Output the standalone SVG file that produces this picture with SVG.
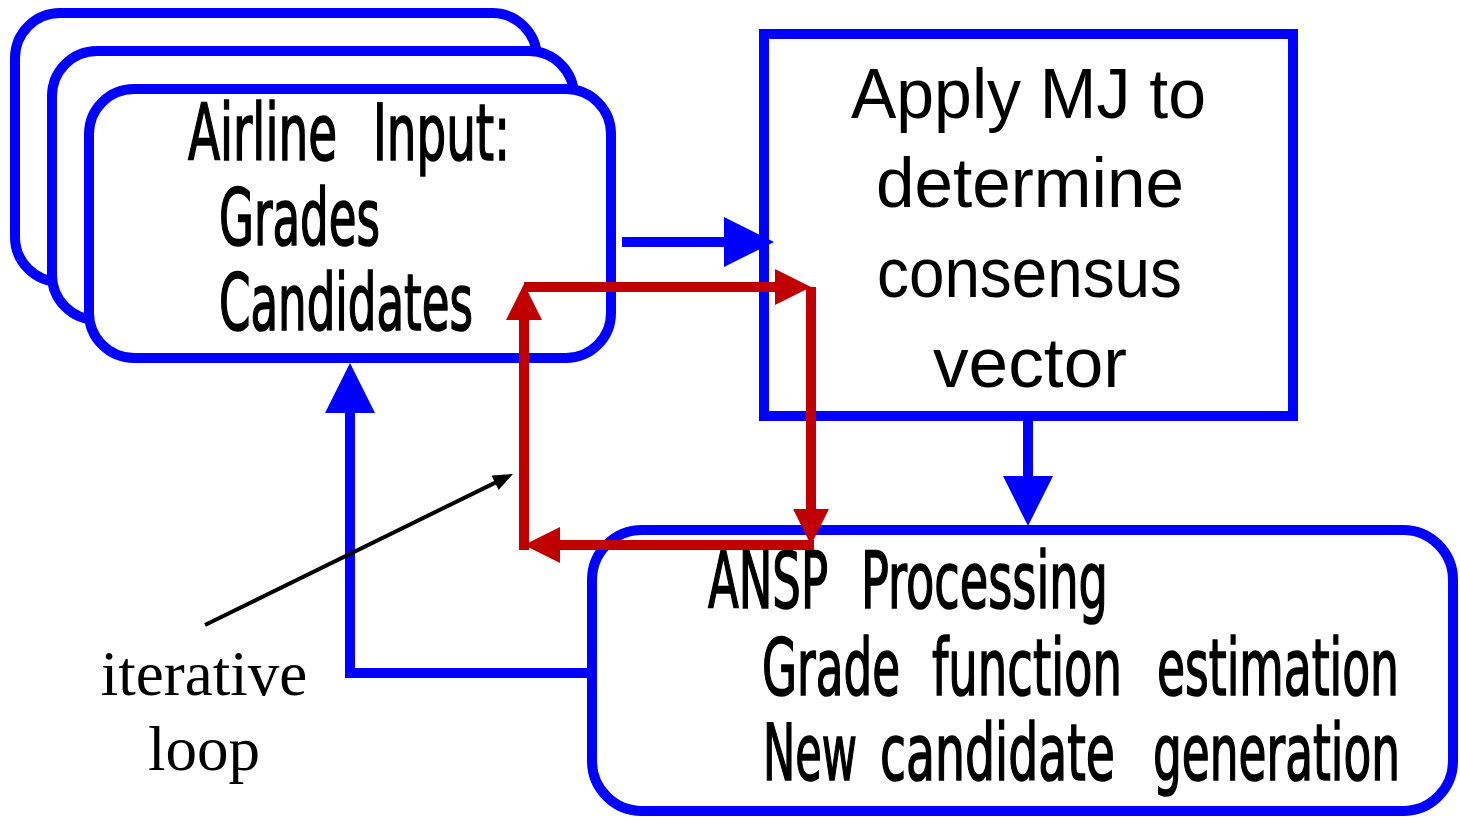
<svg xmlns="http://www.w3.org/2000/svg" width="1460" height="817" viewBox="0 0 1460 817">
<style>
.box{fill:#fff;stroke:#0000ff;stroke-width:10}
.cond{font-family:"Liberation Sans Narrow","DejaVu Sans Condensed","Liberation Sans",sans-serif;font-size:79px;fill:#000;stroke:#000;stroke-width:1.6}
.reg{font-family:"Liberation Sans","DejaVu Sans",sans-serif;font-size:71px;fill:#000}
.serif{font-family:"Liberation Serif","Times New Roman",serif;font-size:63px;fill:#000}
.blue{fill:none;stroke:#0000ff;stroke-width:10;stroke-linejoin:miter}
.red{fill:none;stroke:#c00000;stroke-width:10}
.blk{fill:none;stroke:#000;stroke-width:4}
</style>
<defs>
<marker id="ab" markerUnits="userSpaceOnUse" viewBox="0 0 50 50" refX="38" refY="25" markerWidth="50" markerHeight="50" orient="auto"><path d="M0,0 L50,25 L0,50 z" fill="#0000ff"/></marker>
<marker id="ar" markerUnits="userSpaceOnUse" viewBox="0 0 36 36" refX="26" refY="18" markerWidth="36" markerHeight="36" orient="auto"><path d="M0,0 L36,18 L0,36 z" fill="#c00000"/></marker>
<marker id="ak" markerUnits="userSpaceOnUse" viewBox="0 0 20 16" refX="14" refY="8" markerWidth="20" markerHeight="16" orient="auto"><path d="M0,0 L20,8 L0,16 z" fill="#000"/></marker>
</defs>
<g id="airline-stack">
<rect class="box" x="15" y="13" width="522" height="269" rx="45"/>
<rect class="box" x="52" y="51" width="522" height="269" rx="45"/>
</g>
<g id="airline-input">
<rect class="box" x="89" y="89" width="522" height="269" rx="45"/>
<text class="cond" y="160"><tspan x="188" textLength="149" lengthAdjust="spacingAndGlyphs">Airline</tspan> <tspan x="373" textLength="137" lengthAdjust="spacingAndGlyphs">Input:</tspan></text>
<text class="cond" x="219" y="245" textLength="161" lengthAdjust="spacingAndGlyphs">Grades</text>
<text class="cond" x="219" y="330" textLength="254" lengthAdjust="spacingAndGlyphs">Candidates</text>
</g>
<g id="apply-mj">
<rect class="box" x="764" y="34" width="529" height="382"/>
<text class="reg" x="851" y="118" textLength="355" lengthAdjust="spacingAndGlyphs">Apply MJ to</text>
<text class="reg" x="876" y="207" textLength="308" lengthAdjust="spacingAndGlyphs">determine</text>
<text class="reg" x="877" y="297" textLength="305" lengthAdjust="spacingAndGlyphs">consensus</text>
<text class="reg" x="933" y="387" textLength="194" lengthAdjust="spacingAndGlyphs">vector</text>
</g>
<g id="ansp">
<rect class="box" x="592" y="530" width="861" height="281" rx="50"/>
<text class="cond" y="608"><tspan x="708" textLength="120" lengthAdjust="spacingAndGlyphs">ANSP</tspan> <tspan x="861" textLength="247" lengthAdjust="spacingAndGlyphs">Processing</tspan></text>
<text class="cond" y="695"><tspan x="762" textLength="138" lengthAdjust="spacingAndGlyphs">Grade</tspan> <tspan x="932" textLength="190" lengthAdjust="spacingAndGlyphs">function</tspan> <tspan x="1157" textLength="242" lengthAdjust="spacingAndGlyphs">estimation</tspan></text>
<text class="cond" y="780"><tspan x="763" textLength="94" lengthAdjust="spacingAndGlyphs">New</tspan> <tspan x="880" textLength="235" lengthAdjust="spacingAndGlyphs">candidate</tspan> <tspan x="1153" textLength="247" lengthAdjust="spacingAndGlyphs">generation</tspan></text>
</g>
<g id="label">
<text class="serif" x="204" y="695" text-anchor="middle">iterative</text>
<text class="serif" x="204" y="770" text-anchor="middle">loop</text>
</g>
<g id="connectors">
<path class="blue" d="M622,242 H762" marker-end="url(#ab)"/>
<path class="blue" d="M1028,417 V514" marker-end="url(#ab)"/>
<path class="blue" d="M592,673 H350 V375" marker-end="url(#ab)"/>
<path class="red" d="M524,287 H801" marker-end="url(#ar)"/>
<path class="red" d="M811,287 V535" marker-end="url(#ar)"/>
<path class="red" d="M814,545 H534" marker-end="url(#ar)"/>
<path class="red" d="M524,550 V294" marker-end="url(#ar)"/>
<path class="blk" d="M205,625 L507.6,476.6" marker-end="url(#ak)"/>
</g>
</svg>
